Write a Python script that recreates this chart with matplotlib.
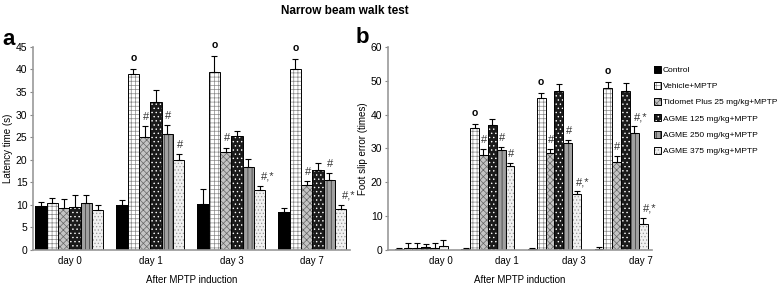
import matplotlib.pyplot as plt
import numpy as np

plt.rcParams['font.family'] = ['Liberation Sans', 'DejaVu Sans']
plt.rcParams['hatch.linewidth'] = 0.5

days = ['day 0', 'day 1', 'day 3', 'day 7']
groups = ['Control', 'Vehicle+MPTP', 'Tidomet Plus 25 mg/kg+MPTP',
          'AGME 125 mg/kg+MPTP', 'AGME 250 mg/kg+MPTP', 'AGME 375 mg/kg+MPTP']

# panel a: latency time (s), rows = groups, cols = days
latency = [[9.7, 10.0, 10.1, 8.4],
           [10.4, 39.0, 39.4, 40.0],
           [9.2, 25.1, 21.6, 14.3],
           [9.5, 32.9, 25.3, 17.8],
           [10.4, 25.8, 18.4, 15.4],
           [8.8, 20.0, 13.2, 9.0]]
latency_err = [[1.0, 1.1, 3.5, 0.9],
               [1.1, 1.1, 3.5, 2.4],
               [2.1, 2.3, 1.1, 1.0],
               [2.6, 2.6, 1.0, 1.5],
               [1.7, 1.8, 1.7, 1.6],
               [1.2, 1.3, 1.0, 1.0]]
# panel b: foot slip error (times)
slips = [[0.4, 0.3, 0.3, 0.3],
         [0.6, 36.0, 45.0, 48.0],
         [0.7, 28.2, 28.6, 26.1],
         [1.0, 36.9, 46.9, 47.0],
         [0.5, 29.4, 31.5, 34.6],
         [1.3, 24.8, 16.5, 7.6]]
slips_err = [[0.3, 0.3, 0.3, 0.5],
             [1.5, 1.3, 1.4, 1.7],
             [1.5, 1.5, 1.3, 1.6],
             [0.8, 1.8, 2.2, 2.4],
             [1.5, 1.1, 1.1, 2.0],
             [1.5, 0.9, 0.9, 1.9]]

# significance marks: (group index, day index, text)
marks_a = [(1, 1, 'o'), (2, 1, '#'), (4, 1, '#'), (5, 1, '#'),
           (1, 2, 'o'), (2, 2, '#'), (5, 2, '#,*'),
           (1, 3, 'o'), (2, 3, '#'), (4, 3, '#'), (5, 3, '#,*')]
marks_b = [(1, 1, 'o'), (2, 1, '#'), (4, 1, '#'), (5, 1, '#'),
           (1, 2, 'o'), (2, 2, '#'), (4, 2, '#'), (5, 2, '#,*'),
           (1, 3, 'o'), (2, 3, '#'), (4, 3, '#,*'), (5, 3, '#,*')]

# style per group: face, hatch, hatch colour
styles = [('black', '', 'black'),
          ('white', '++++', '#888888'),
          ('#c4c4c4', 'xxxxx', '#666666'),
          ('#1a1a1a', '....', 'white'),
          ('#a0a0a0', '||||', '#333333'),
          ('#f0f0f0', '.....', '#999999')]

fig = plt.figure(figsize=(7.78, 2.86), dpi=100)
ax_a = fig.add_axes([0.0424, 0.126, 0.408, 0.710])
ax_b = fig.add_axes([0.4987, 0.126, 0.339, 0.710])


def draw(ax, vals, errs, marks, w, ymax, ystep, tick_shift, ylabel):
    x = np.arange(len(days))
    handles = []
    for i, g in enumerate(groups):
        pos = x + (i - 2.5) * w
        face, hatch, hcol = styles[i]
        h1 = ax.bar(pos, vals[i], w, color=face, hatch=hatch, edgecolor=hcol, lw=0)
        h2 = ax.bar(pos, vals[i], w, fill=False, edgecolor='black', lw=0.7)
        ax.errorbar(pos, vals[i], yerr=[np.zeros(4), errs[i]], fmt='none',
                    ecolor='black', elinewidth=0.8, capsize=2, capthick=0.8)
        handles.append((h1, h2))
    for gi, di, t in marks:
        px = x[di] + (gi - 2.5) * w
        top = vals[gi][di] + errs[gi][di]
        if t == 'o':
            ax.text(px, top + ymax * 0.03, t, ha='center', va='bottom',
                    fontsize=7.5, fontweight='bold')
        else:
            ax.text(px + (w * 0.7 if ',' in t else 0.1 * w), top + ymax * 0.02, t,
                    ha='center', va='bottom', fontsize=8, color='#333333')
    ax.set_ylim(0, ymax)
    ax.set_yticks(np.arange(0, ymax + 1, ystep))
    ax.set_xticks(x + tick_shift)
    ax.set_xticklabels(days)
    ax.tick_params(axis='x', length=0, labelsize=7, pad=4)
    ax.tick_params(axis='y', length=2.5, labelsize=7.5, color='#888888', pad=1.5)
    for s in ['top', 'right']:
        ax.spines[s].set_visible(False)
    for s in ['left', 'bottom']:
        ax.spines[s].set_color('#999999')
        ax.spines[s].set_linewidth(1.2)
    ax.set_ylabel(ylabel, fontsize=7, labelpad=2)
    ax.set_xlabel('After MPTP induction', fontsize=7, labelpad=7)
    return handles


draw(ax_a, latency, latency_err, marks_a, 0.14, 45, 5, 0.0, 'Latency time (s)')
ax_a.set_xlim(-0.45, 3.47)
handles = draw(ax_b, slips, slips_err, marks_b, 0.133, 60, 10, 0.29,
               'Foot slip error (times)')
ax_b.set_xlim(-0.50, 3.46)

fig.legend(handles, groups, loc='upper left', bbox_to_anchor=(0.835, 0.785),
           frameon=False, fontsize=6, handlelength=0.9, handleheight=0.9,
           handletextpad=0.2, labelspacing=0.95, borderpad=0)

fig.text(0.443, 0.962, 'Narrow beam walk test', ha='center', va='center',
         fontsize=8.5, fontweight='bold')
fig.text(0.003, 0.843, 'a', fontsize=16, fontweight='bold', va='baseline')
fig.text(0.457, 0.85, 'b', fontsize=16, fontweight='bold', va='baseline')

fig.savefig('out.png', dpi=100)
